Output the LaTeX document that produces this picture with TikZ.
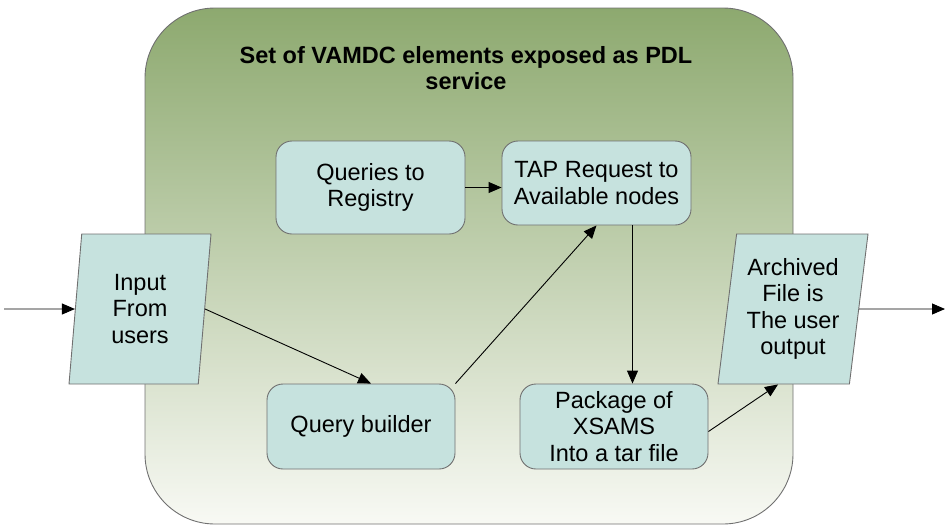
\documentclass[tikz,border=0pt]{standalone}
\usepackage{fontspec}
\setmainfont{Liberation Sans}
\usepackage{tikz}
\usetikzlibrary{positioning,shapes,arrows,arrows.meta,calc}

\definecolor{boxfill}{HTML}{C6E2DE}
\definecolor{boxline}{HTML}{707070}
\definecolor{pdltop}{HTML}{8DA96F}
\definecolor{pdlbottom}{HTML}{F8F9F4}

\tikzset{
    boxfont/.style={font=\fontsize{23.5}{26.5}\selectfont},
    process/.style={rectangle, rounded corners=16pt, draw=boxline, fill=boxfill, line width=0.9pt, minimum width=188pt, minimum height=85pt, align=center, boxfont},
    data/.style={trapezium, trapezium left angle=79.6, trapezium right angle=100.4, trapezium stretches body, draw=boxline, fill=boxfill, line width=0.9pt, minimum height=150pt, inner sep=0pt, align=center, boxfont},
    flow/.style={-{Triangle[length=13pt,width=11pt]}, line width=0.9pt, black}
}

\begin{document}
\begin{tikzpicture}[x=1pt,y=-1pt]
\useasboundingbox (0,0) rectangle (952,530);

% the PDL service frame
\node (pdl) [rectangle, rounded corners=70pt, draw=boxline, line width=0.9pt, top color=pdltop, bottom color=pdlbottom, minimum width=648pt, minimum height=516pt, inner sep=0pt] at (469,266) {};
\node (title) [align=center, font=\fontsize{23.5}{26.5}\selectfont\bfseries] at (466,68) {Set of VAMDC elements exposed as PDL\\service};

% steps
\node (queries) [process, minimum width=189pt, minimum height=93pt] at (370.5,187.5) {Queries to\\Registry};
\node (tap) [process, minimum width=189pt, minimum height=84pt] at (596.5,183) {TAP Request to\\Available nodes};
\node (builder) [process] at (361,426.5) {Query builder};
\node (package) [process] at (614,426.5) {Package of\\XSAMS\\Into a tar file};

% input and output
\node (input) [data, minimum width=142pt] at (140,309) {Input\\From\\users};
\node (archived) [data, minimum width=150pt] at (793,309) {Archived\\File is\\The user\\output};
\coordinate (feed) at (4,309);
\coordinate (out) at (945,309);

% connectors
\draw[flow] (feed) -- (input);
\draw[flow] (input.east) -- ([xshift=10pt]builder.north);
\draw[flow] (builder.north east) -- (tap.south);
\draw[flow] (queries.east) -- (queries.east -| tap.west);
\draw[flow] ([xshift=36pt]tap.south) -- ([xshift=36pt]tap.south |- package.north);
\draw[flow] ([yshift=-5pt]package.east) -- ([xshift=-15pt]archived.south);
\draw[flow] (archived) -- (out);
\end{tikzpicture}
\end{document}
